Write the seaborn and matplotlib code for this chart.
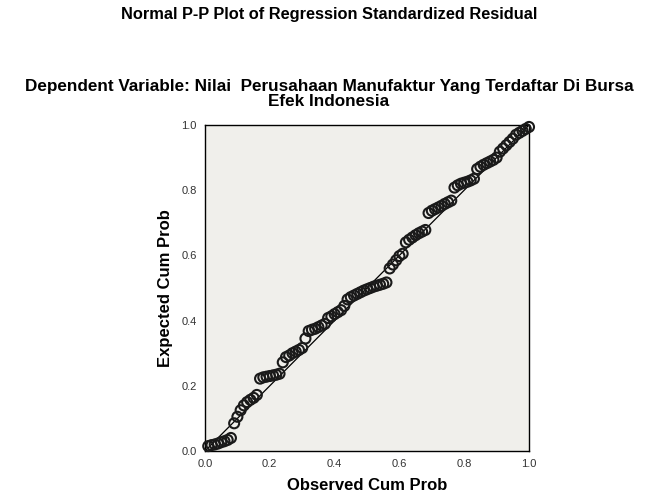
import matplotlib
matplotlib.use("Agg")
import matplotlib.pyplot as plt
import seaborn as sns
import pandas as pd

# observed vs expected cumulative probabilities
observed = [0.01, 0.02, 0.03, 0.04, 0.05, 0.06, 0.07, 0.08, 0.09, 0.10,
            0.11, 0.12, 0.13, 0.14, 0.15, 0.16, 0.17, 0.18, 0.19, 0.20,
            0.21, 0.22, 0.23, 0.24, 0.25, 0.26, 0.27, 0.28, 0.29, 0.30,
            0.31, 0.32, 0.33, 0.34, 0.35, 0.36, 0.37, 0.38, 0.39, 0.40,
            0.41, 0.42, 0.43, 0.44, 0.45, 0.46, 0.47, 0.48, 0.49, 0.50,
            0.51, 0.52, 0.53, 0.54, 0.55, 0.56, 0.57, 0.58, 0.59, 0.60,
            0.61, 0.62, 0.63, 0.64, 0.65, 0.66, 0.67, 0.68, 0.69, 0.70,
            0.71, 0.72, 0.73, 0.74, 0.75, 0.76, 0.77, 0.78, 0.79, 0.80,
            0.81, 0.82, 0.83, 0.84, 0.85, 0.86, 0.87, 0.88, 0.89, 0.90,
            0.91, 0.92, 0.93, 0.94, 0.95, 0.96, 0.97, 0.98, 0.99, 1.00]
expected = [0.015, 0.018, 0.020, 0.023, 0.027, 0.030, 0.034, 0.040, 0.085, 0.105,
            0.125, 0.140, 0.150, 0.157, 0.163, 0.172, 0.222, 0.226, 0.228, 0.230,
            0.232, 0.234, 0.237, 0.272, 0.288, 0.293, 0.300, 0.305, 0.310, 0.316,
            0.345, 0.368, 0.372, 0.375, 0.380, 0.385, 0.390, 0.408, 0.413, 0.420,
            0.426, 0.432, 0.445, 0.465, 0.472, 0.477, 0.482, 0.487, 0.492, 0.496,
            0.500, 0.504, 0.507, 0.510, 0.513, 0.517, 0.560, 0.572, 0.585, 0.598,
            0.605, 0.640, 0.648, 0.655, 0.662, 0.668, 0.673, 0.678, 0.730, 0.737,
            0.742, 0.747, 0.752, 0.758, 0.763, 0.768, 0.808, 0.815, 0.820, 0.823,
            0.826, 0.830, 0.835, 0.865, 0.872, 0.878, 0.883, 0.888, 0.893, 0.900,
            0.918, 0.928, 0.938, 0.948, 0.958, 0.970, 0.976, 0.982, 0.988, 0.994]
ref_line = [0.0, 1.0]
tick_values = [0.0, 0.2, 0.4, 0.6, 0.8, 1.0]
tick_labels = ["0.0", "0.2", "0.4", "0.6", "0.8", "1.0"]

sns.set_style("white")
plt.rcParams['font.family'] = ['Liberation Sans', 'DejaVu Sans']
plt.rcParams['text.color'] = 'black'
plt.rcParams['axes.labelcolor'] = 'black'

df = pd.DataFrame({"Observed Cum Prob": observed, "Expected Cum Prob": expected})

fig = plt.figure(figsize=(6.58, 5.0), dpi=100)
ax = fig.add_axes([205 / 658, 49 / 500, 324 / 658, 326 / 500])
ax.set_facecolor("#f0efeb")

sns.lineplot(x=ref_line, y=ref_line, ax=ax, color="#000000", linewidth=0.9)
sns.scatterplot(data=df, x="Observed Cum Prob", y="Expected Cum Prob", ax=ax,
                marker="o", s=52, facecolors="none", edgecolor="#1a1a1a",
                linewidth=1.5, clip_on=False, zorder=3)

ax.set_xlim(0, 1)
ax.set_ylim(0, 1)
ax.set_xticks(tick_values)
ax.set_xticklabels(tick_labels)
ax.set_yticks(tick_values)
ax.set_yticklabels(tick_labels)
ax.tick_params(direction="out", length=4, width=1, color="black",
               labelsize=8, labelcolor="#333333", pad=2)
for sp in ax.spines.values():
    sp.set_visible(True)
    sp.set_color("black")
    sp.set_linewidth(1)

ax.set_xlabel("Observed Cum Prob", fontsize=12, fontweight="bold", labelpad=6)
ax.set_ylabel("Expected Cum Prob", fontsize=12, fontweight="bold", labelpad=6)

fig.text(0.5, 1 - 14 / 500, "Normal P-P Plot of Regression Standardized Residual",
         ha="center", va="center", fontsize=11.8, fontweight="bold")
fig.text(0.5, 1 - 94 / 500,
         "Dependent Variable: Nilai  Perusahaan Manufaktur Yang Terdaftar Di Bursa\nEfek Indonesia",
         ha="center", va="center", fontsize=12.3, fontweight="bold", linespacing=0.92)

fig.savefig("out.png", dpi=100)
